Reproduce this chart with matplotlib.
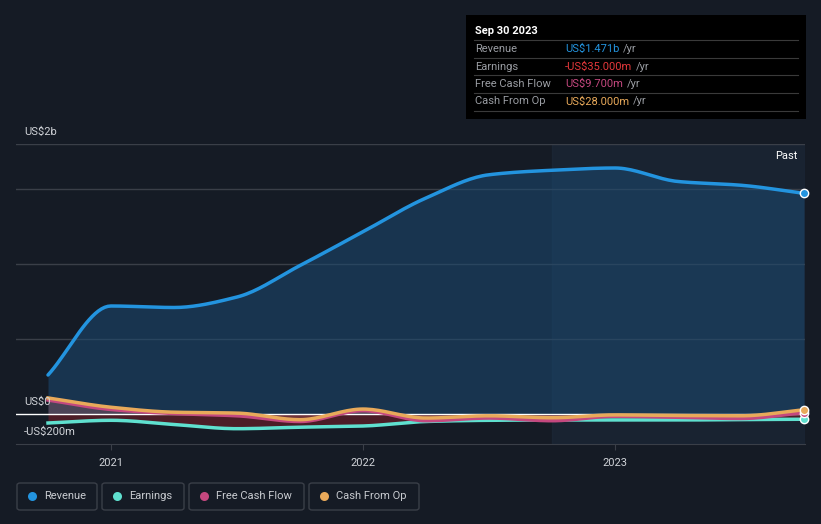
import numpy as np
import matplotlib
matplotlib.use("Agg")
import matplotlib.pyplot as plt
from matplotlib.patches import Rectangle, FancyBboxPatch

plt.rcParams['font.family'] = ['Roboto', 'DejaVu Sans']

# quarterly values, US$ millions (Sep 2020 .. Sep 2023)
quarters = 2020.75 + 0.25 * np.arange(13)
revenue = [260, 720, 710, 780, 990, 1215, 1440, 1595, 1625, 1640, 1550, 1525, 1471]
earnings = [-60, -42, -70, -98, -88, -80, -50, -42, -40, -40, -40, -37, -35]
free_cash_flow = [93, 30, 3, -12, -50, 22, -45, -27, -45, -15, -22, -30, 9.7]
cash_from_op = [107, 45, 12, 6, -38, 33, -27, -12, -25, -6, -10, -12, 28]

year_ticks = [2021, 2022, 2023]
past_start = 2022.75

bg = '#151b25'
c_rev = '#2394df'
c_earn = '#5fe0cf'
c_fcf = '#c4487f'
c_cfo = '#e8a95a'


def smooth(x, y, n=20):
    # cubic hermite for drawing only, tangents limited like pchip
    x = np.asarray(x, float)
    y = np.asarray(y, float)
    d = np.diff(y) / np.diff(x)
    m = np.zeros_like(y)
    m[0], m[-1] = d[0], d[-1]
    for i in range(1, len(y) - 1):
        if d[i - 1] * d[i] <= 0:
            m[i] = 0
        else:
            m[i] = 2 / (1 / d[i - 1] + 1 / d[i])
    xs, ys = [], []
    for i in range(len(x) - 1):
        h = x[i + 1] - x[i]
        t = np.linspace(0, 1, n, endpoint=False)
        h00 = 2 * t**3 - 3 * t**2 + 1
        h10 = t**3 - 2 * t**2 + t
        h01 = -2 * t**3 + 3 * t**2
        h11 = t**3 - t**2
        xs.append(x[i] + t * h)
        ys.append(h00 * y[i] + h10 * h * m[i] + h01 * y[i + 1] + h11 * h * m[i + 1])
    xs.append([x[-1]])
    ys.append([y[-1]])
    return np.concatenate(xs), np.concatenate(ys)


W, H = 821, 524
fig = plt.figure(figsize=(W / 100, H / 100), dpi=100, facecolor=bg)
ax = fig.add_axes([16 / W, (H - 444) / H, (805 - 16) / W, 300 / H])
ax.set_facecolor(bg)

x0 = quarters[0] - 32 / 252
x1 = quarters[-1] + 1 / 252
ax.set_xlim(x0, x1)
ax.set_ylim(-200, 1800)

for g in [500, 1000, 1500, 1800]:
    ax.axhline(g, color='#3a3f48', lw=1, zorder=1)
ax.axvspan(past_start, x1, color='#1d2a3a', alpha=0.6, zorder=0)

xr, yr = smooth(quarters, revenue)
ax.fill_between(xr, 0, yr, color='#1b4a72', alpha=0.55, lw=0, zorder=2)

xe, ye = smooth(quarters, earnings)
xf, yf = smooth(quarters, free_cash_flow)
xc, yc = smooth(quarters, cash_from_op)
ax.fill_between(xe, 0, ye, color='#5a1e28', alpha=0.8, lw=0, zorder=3)
ax.fill_between(xf, 0, yf, color='#c4487f', alpha=0.18, lw=0, zorder=3)
ax.fill_between(xc, 0, yc, color='#e8a95a', alpha=0.12, lw=0, zorder=3)
ax.axhline(0, color='white', lw=1, zorder=4)

ax.plot(xr, yr, color=c_rev, lw=2.5, zorder=6, solid_capstyle='round')
ax.plot(xe, ye, color=c_earn, lw=2.5, zorder=5)
ax.plot(xf, yf, color=c_fcf, lw=2.5, zorder=5)
ax.plot(xc, yc, color=c_cfo, lw=2.5, zorder=5)

for vals, col in [(revenue, c_rev), (earnings, c_earn), (free_cash_flow, c_fcf), (cash_from_op, c_cfo)]:
    ax.plot(quarters[-1], vals[-1], 'o', ms=6, mfc=col, mec='white', mew=1, zorder=7, clip_on=False)

for s in ['top', 'right', 'left']:
    ax.spines[s].set_visible(False)
ax.spines['bottom'].set_color('#3a3f48')
ax.set_yticks([])
ax.set_xticks(year_ticks)
ax.set_xticklabels([str(y) for y in year_ticks])
ax.tick_params(axis='x', colors='#3a3f48', labelcolor='#d0d3d8', labelsize=8, length=4, pad=6)


def ft(x, y, s, **kw):
    fig.text(x / W, 1 - y / H, s, **kw)


ft(797, 156, 'Past', color='white', fontsize=8, ha='right', va='center')
ft(24, 132, 'US$2b', color='#d0d3d8', fontsize=8, va='center')
ft(24, 402, 'US$0', color='#d0d3d8', fontsize=8, va='center')
ft(24, 432, '-US$200m', color='#d0d3d8', fontsize=8, va='center')

# tooltip box
fig.patches.append(Rectangle((466 / W, 1 - 119 / H), 340 / W, 104 / H, transform=fig.transFigure,
                             facecolor='black', edgecolor='none', zorder=10))
ft(475, 31, 'Sep 30 2023', color='white', fontsize=8, va='center', fontweight='bold', zorder=11)
rows = [('Revenue', 'US$1.471b', '#2394df'),
        ('Earnings', '-US$35.000m', '#e5383b'),
        ('Free Cash Flow', 'US$9.700m', '#c4487f'),
        ('Cash From Op', 'US$28.000m', '#e8a95a')]
for i, (lab, val, col) in enumerate(rows):
    y = 49 + 17.5 * i
    fig.add_artist(plt.Line2D([474 / W, 798 / W], [1 - (y - 9) / H] * 2, color='#3a3a3a', lw=0.8, zorder=11))
    ft(475, y, lab, color='#9a9da3', fontsize=8, va='center', zorder=11)
    t = fig.text(565 / W, 1 - y / H, val, color=col, fontsize=8, va='center', zorder=11)
    fig.canvas.draw()
    bb = t.get_window_extent()
    fig.text((bb.x1 + 4) / W, 1 - y / H, '/yr', color='#9a9da3', fontsize=8, va='center', zorder=11)
fig.add_artist(plt.Line2D([474 / W, 798 / W], [1 - 111 / H] * 2, color='#3a3a3a', lw=0.8, zorder=11))

# legend boxes
legend = [('Revenue', c_rev, 17, 97), ('Earnings', c_earn, 102, 184),
          ('Free Cash Flow', c_fcf, 189, 304), ('Cash From Op', c_cfo, 309, 419)]
for lab, col, l, r in legend:
    fig.patches.append(FancyBboxPatch((l / W, 1 - 510 / H), (r - l) / W, 27 / H,
                                      boxstyle='round,pad=0,rounding_size=0.004',
                                      transform=fig.transFigure, facecolor='none',
                                      edgecolor='#3a3f48', lw=1))
    fig.add_artist(plt.Line2D([(l + 15) / W], [1 - 496 / H], marker='o', ms=6.5,
                              color=col, mec='none'))
    ft(l + 27, 496, lab, color='#c8cbd0', fontsize=8, va='center')

fig.savefig('out.png', dpi=100, facecolor=bg)
